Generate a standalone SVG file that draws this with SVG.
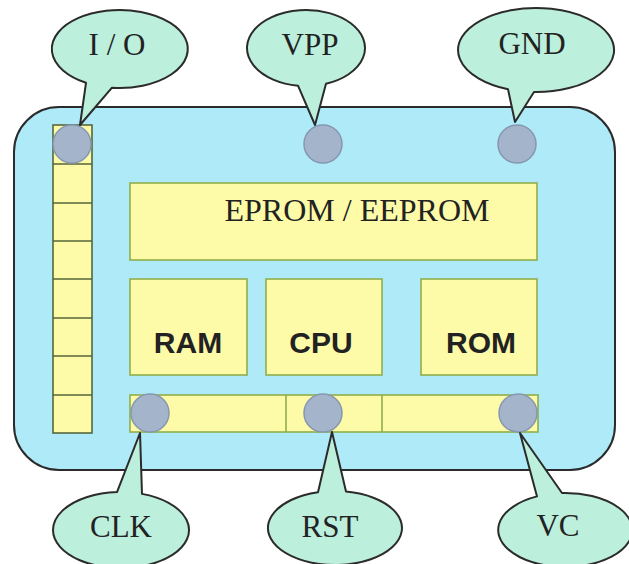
<svg xmlns="http://www.w3.org/2000/svg" width="629" height="564" viewBox="0 0 629 564">
<style>
.board{fill:#aeeaf8;stroke:#2b2b2b;stroke-width:2}
.blk{fill:#fdfaa8;stroke:#8fae4a;stroke-width:1.6}
.col{fill:#fdfaa8;stroke:#56663a;stroke-width:1.6}
.pin{fill:#a3b4cb;stroke:#8797b0;stroke-width:1.5}
.call{fill:#bcefdc;stroke:#2b2b2b;stroke-width:2;stroke-linejoin:round}
.lbl{font-family:"Liberation Serif","Times New Roman",serif;font-size:31px;fill:#222;text-anchor:middle}
.big{font-family:"Liberation Sans",Arial,sans-serif;font-size:30px;font-weight:bold;fill:#222;text-anchor:middle}
</style>
<rect id="board" class="board" x="14" y="107" width="601" height="363" rx="45" ry="45"/>
<g id="io-column">
<rect class="col" x="53" y="125" width="39" height="308"/>
<path d="M53 164H92M53 203H92M53 241H92M53 279H92M53 318H92M53 356H92M53 395H92" stroke="#56663a" stroke-width="1.6" fill="none"/>
</g>
<g id="eprom">
<rect class="blk" x="130" y="183" width="407" height="77"/>
<text class="lbl" x="357" y="221" textLength="265" lengthAdjust="spacingAndGlyphs">EPROM / EEPROM</text>
</g>
<g id="ram">
<rect class="blk" x="130" y="279" width="117" height="96"/>
<text class="big" x="188" y="353">RAM</text>
</g>
<g id="cpu">
<rect class="blk" x="266" y="279" width="116" height="96"/>
<text class="big" x="321" y="353">CPU</text>
</g>
<g id="rom">
<rect class="blk" x="421" y="279" width="116" height="96"/>
<text class="big" x="481" y="353">ROM</text>
</g>
<g id="bus">
<rect class="blk" x="130" y="395" width="408" height="37"/>
<path d="M286 395V432M382 395V432" stroke="#8fae4a" stroke-width="1.6"/>
</g>
<g id="pins">
<circle class="pin" cx="72" cy="144" r="19"/>
<circle class="pin" cx="323" cy="144" r="19"/>
<circle class="pin" cx="517" cy="144" r="19"/>
<circle class="pin" cx="150" cy="413" r="19"/>
<circle class="pin" cx="323" cy="413" r="19"/>
<circle class="pin" cx="518" cy="413" r="19"/>
</g>
<g id="connectors">
<g id="io-callout">
<path class="call" d="M86 82.8A68 39 0 1 1 112 87.7L80 125Z"/>
<text class="lbl" x="117" y="55">I / O</text>
</g>
<g id="vpp-callout">
<path class="call" d="M298 85.65A59 38 0 1 1 326 83.75L315 125Z"/>
<text class="lbl" x="310" y="55">VPP</text>
</g>
<g id="gnd-callout">
<path class="call" d="M508 89.2A78 42 0 1 1 534 92L515 122Z"/>
<text class="lbl" x="532" y="54">GND</text>
</g>
<g id="clk-callout">
<path class="call" d="M117 492.07A68 38 0 1 0 142 493.86L140 433Z"/>
<text class="lbl" x="121" y="537">CLK</text>
</g>
<g id="rst-callout">
<path class="call" d="M318 492.2A67 37 0 1 0 346 491.5L332 432Z"/>
<text class="lbl" x="330" y="537">RST</text>
</g>
<g id="vc-callout">
<path class="call" d="M537 496.4A67 37 0 1 0 562 493L520 433Z"/>
<text class="lbl" x="558" y="536">VC</text>
</g>
</g>
</svg>
